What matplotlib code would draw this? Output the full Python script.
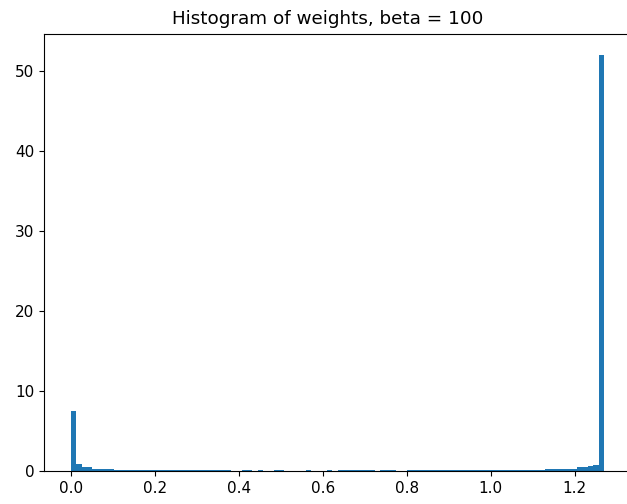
from matplotlib import pyplot as plt
import numpy as np

# ===================== 数据 =====================
w_min = 0.0
w_max = 1.27
n_bins = 100

# density of each bin, bin 0 .. bin 99
heights = [
    7.5, 0.9, 0.5, 0.5, 0.3, 0.3, 0.3, 0.3, 0.15, 0.15,        # 0-9
    0.15, 0.15, 0.15, 0.15, 0.15, 0.15, 0.15, 0.15, 0.15, 0.15,  # 10-19
    0.15, 0.15, 0.15, 0.15, 0.15, 0.15, 0.15, 0.15, 0.15, 0.15,  # 20-29
    0, 0, 0.15, 0.15, 0, 0.15, 0, 0, 0.15, 0.15,                 # 30-39
    0, 0, 0, 0, 0.15, 0, 0, 0, 0.15, 0,                          # 40-49
    0.15, 0.15, 0.15, 0.15, 0.15, 0.15, 0.15, 0, 0.15, 0.15,     # 50-59
    0.15, 0, 0, 0.15, 0.15, 0.15, 0.15, 0.15, 0.15, 0.15,        # 60-69
    0.15, 0.15, 0.15, 0.15, 0.15, 0.15, 0.15, 0.15, 0.15, 0.15,  # 70-79
    0.15, 0.15, 0.15, 0.15, 0.15, 0.15, 0.15, 0.15, 0.15, 0.3,   # 80-89
    0.3, 0.3, 0.3, 0.3, 0.3, 0.45, 0.45, 0.65, 0.8, 52.0,        # 90-99
]

title = "Histogram of weights, beta = 100"

# ===================== 画图 =====================
edges = np.linspace(w_min, w_max, n_bins + 1)

fig = plt.figure(figsize=(6.27, 5.04), dpi=100)
ax = fig.add_axes([44.3 / 627, 33 / 504, 586.5 / 627, 437 / 504])

ax.hist(edges[:-1], bins=edges, weights=heights)
# 图片右边被裁掉了，标题看起来偏左一点
ax.set_title(title, fontsize=13.2, pad=7, x=0.484)
ax.tick_params(labelsize=11, length=3.8)

plt.savefig("out.png", dpi=100)
plt.close()
